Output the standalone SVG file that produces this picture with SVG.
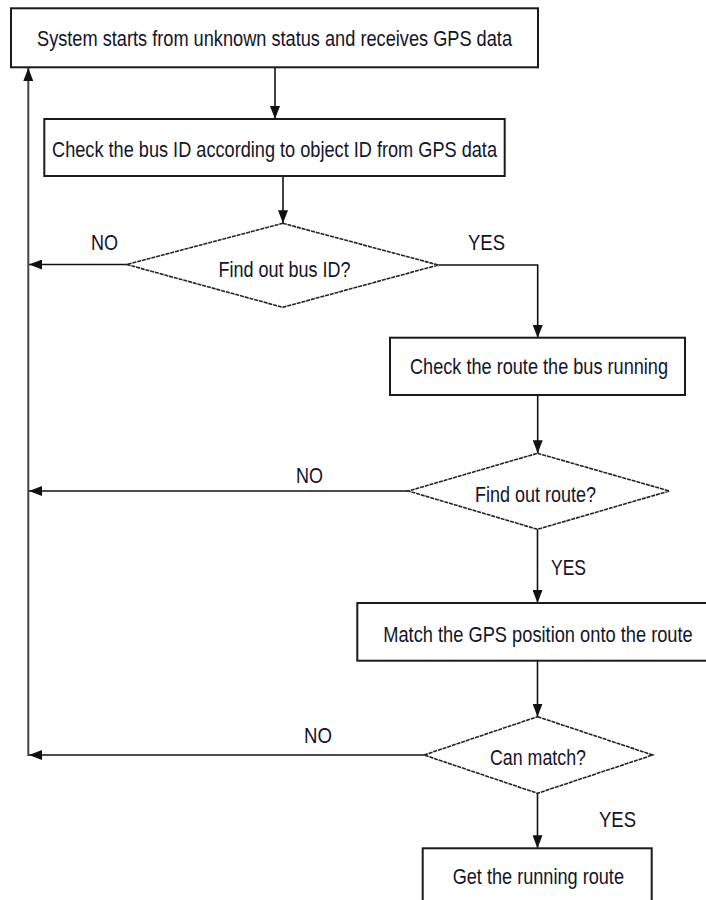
<svg xmlns="http://www.w3.org/2000/svg" width="706" height="900" viewBox="0 0 706 900">
  <style>
    .box { fill: #ffffff; stroke: #1a1a1a; stroke-width: 2; }
    .dia { fill: #ffffff; stroke: #222222; stroke-width: 1.6; stroke-dasharray: 4 0.9; }
    .t { font-family: "Liberation Sans", Arial, sans-serif; font-size: 22px; fill: #141428; text-anchor: middle; }
    .con { fill: none; stroke: #111111; stroke-width: 1.6; }
    .ret { fill: none; stroke: #444444; stroke-width: 2; }
  </style>
  <defs>
    <marker id="ah" viewBox="0 0 13 10" refX="13" refY="5" markerWidth="13" markerHeight="10" markerUnits="userSpaceOnUse" orient="auto">
      <path d="M0,0 L13,5 L0,10 z" fill="#111111"/>
    </marker>
  </defs>

  <g id="connectors">
    <line class="con" x1="275" y1="67" x2="275" y2="119" marker-end="url(#ah)"/>
    <line class="con" x1="283" y1="176" x2="283" y2="223.3" marker-end="url(#ah)"/>
    <polyline class="con" points="438.3,265 537.7,265 537.7,338" marker-end="url(#ah)"/>
    <line class="con" x1="126.7" y1="264.5" x2="29" y2="264.5" marker-end="url(#ah)"/>
    <line class="con" x1="537.7" y1="395" x2="537.7" y2="453.3" marker-end="url(#ah)"/>
    <line class="con" x1="408.3" y1="491" x2="29" y2="491" marker-end="url(#ah)"/>
    <line class="con" x1="537.5" y1="529.3" x2="537.5" y2="603" marker-end="url(#ah)"/>
    <line class="con" x1="537.5" y1="661" x2="537.5" y2="716.7" marker-end="url(#ah)"/>
    <line class="con" x1="424" y1="755" x2="29" y2="755" marker-end="url(#ah)"/>
    <line class="con" x1="537.5" y1="793.3" x2="537.5" y2="848.3" marker-end="url(#ah)"/>
    <line class="ret" x1="28.3" y1="756" x2="28.3" y2="68" marker-end="url(#ah)"/>
    <text class="t" transform="translate(104.5,250) scale(0.83,1)" textLength="32.5" lengthAdjust="spacingAndGlyphs">NO</text>
    <text class="t" transform="translate(486.5,250) scale(0.83,1)" textLength="44.6" lengthAdjust="spacingAndGlyphs">YES</text>
    <text class="t" transform="translate(309.5,483.3) scale(0.83,1)" textLength="32.5" lengthAdjust="spacingAndGlyphs">NO</text>
    <text class="t" transform="translate(568.5,575) scale(0.83,1)" textLength="42.2" lengthAdjust="spacingAndGlyphs">YES</text>
    <text class="t" transform="translate(318,742.7) scale(0.83,1)" textLength="33.7" lengthAdjust="spacingAndGlyphs">NO</text>
    <text class="t" transform="translate(617.5,826.7) scale(0.83,1)" textLength="44.6" lengthAdjust="spacingAndGlyphs">YES</text>
  </g>

  <g id="start">
    <rect class="box" x="11" y="8.3" width="527" height="59"/>
    <text class="t" transform="translate(274.5,46) scale(0.83,1)" textLength="572.3" lengthAdjust="spacingAndGlyphs">System starts from unknown status and receives GPS data</text>
  </g>

  <g id="check-bus-id">
    <rect class="box" x="44.3" y="119" width="460.4" height="57"/>
    <text class="t" transform="translate(274.5,157) scale(0.83,1)" textLength="536.1" lengthAdjust="spacingAndGlyphs">Check the bus ID according to object ID from GPS data</text>
  </g>

  <g id="find-bus-id">
    <polygon class="dia" points="282.7,223.3 438.3,265 282.7,307.3 126.7,264.5"/>
    <text class="t" transform="translate(284.5,276.5) scale(0.83,1)" textLength="159" lengthAdjust="spacingAndGlyphs">Find out bus ID?</text>
  </g>

  <g id="check-route">
    <rect class="box" x="390" y="337.7" width="295" height="57.3"/>
    <text class="t" transform="translate(539,374) scale(0.83,1)" textLength="310.8" lengthAdjust="spacingAndGlyphs">Check the route the bus running</text>
  </g>

  <g id="find-route">
    <polygon class="dia" points="537.5,453.3 669.3,491 537.5,529.3 408.3,491"/>
    <text class="t" transform="translate(535.5,501.5) scale(0.83,1)" textLength="145.8" lengthAdjust="spacingAndGlyphs">Find out route?</text>
  </g>

  <g id="match-position">
    <rect class="box" x="357.3" y="603" width="370" height="57.7"/>
    <text class="t" transform="translate(538,641.5) scale(0.83,1)" textLength="372.9" lengthAdjust="spacingAndGlyphs">Match the GPS position onto the route</text>
  </g>

  <g id="can-match">
    <polygon class="dia" points="537.5,716.7 652.7,755 537.5,793.3 424,755"/>
    <text class="t" transform="translate(538,765) scale(0.83,1)" textLength="115.7" lengthAdjust="spacingAndGlyphs">Can match?</text>
  </g>

  <g id="running-route">
    <rect class="box" x="422.7" y="848.3" width="229" height="80"/>
    <text class="t" transform="translate(538.3,884) scale(0.83,1)" textLength="206.4" lengthAdjust="spacingAndGlyphs">Get the running route</text>
  </g>
</svg>
